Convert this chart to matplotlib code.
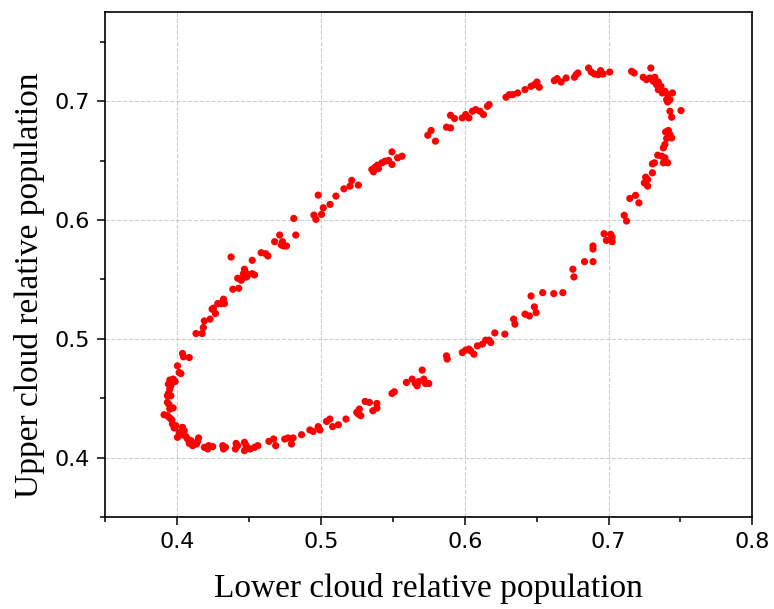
import matplotlib
matplotlib.use("Agg")
import matplotlib.pyplot as plt
import numpy as np
from matplotlib.ticker import MultipleLocator

# lower cloud (x) / upper cloud (y) relative population
lower_pop = [
    0.4131, 0.4173, 0.4037, 0.4044, 0.4084, 0.4002, 0.4014, 0.4026, 0.3949, 0.3972,
    0.3986, 0.3939, 0.3956, 0.3949, 0.3939, 0.3932, 0.3956, 0.3932, 0.3944, 0.3972,
    0.3949, 0.3909, 0.3932, 0.3949, 0.3963, 0.3967, 0.3991, 0.3979, 0.4037, 0.4049,
    0.4014, 0.4033, 0.4002, 0.4061, 0.4072, 0.4096, 0.4084, 0.4119, 0.4107, 0.4149,
    0.4142, 0.4135, 0.4189, 0.4219, 0.4247, 0.4212, 0.4317, 0.4336, 0.4322, 0.4410,
    0.4421, 0.4405, 0.4468, 0.4480, 0.4468, 0.4508, 0.4538, 0.4561, 0.4638, 0.4671,
    0.4685, 0.4748, 0.4771, 0.4806, 0.4795, 0.4865, 0.4923, 0.4946, 0.4981, 0.4993,
    0.5039, 0.5062, 0.5081, 0.5121, 0.5174, 0.5249, 0.5267, 0.5277, 0.5260, 0.5307,
    0.5337, 0.5389, 0.5361, 0.5389, 0.5494, 0.5510, 0.5594, 0.5634, 0.5657, 0.5669,
    0.5680, 0.5704, 0.5715, 0.5727, 0.5750, 0.5873, 0.5878, 0.5983, 0.6006, 0.6029,
    0.6064, 0.6088, 0.6123, 0.6146, 0.6041, 0.6169, 0.6181, 0.6209, 0.6279, 0.6340,
    0.6349, 0.6419, 0.6449, 0.6461, 0.6484, 0.6496, 0.6542, 0.6619, 0.6682, 0.6752,
    0.6759, 0.6833, 0.6892, 0.6892, 0.6892, 0.6969, 0.6985, 0.7015, 0.7025, 0.7025,
    0.7109, 0.7125, 0.7148, 0.7188, 0.7211, 0.7249, 0.7258, 0.7272, 0.7272, 0.7305,
    0.7305, 0.7319, 0.7342, 0.7370, 0.7381, 0.7392, 0.7411, 0.7381, 0.7392, 0.7397,
    0.7416, 0.7427, 0.7439, 0.7404, 0.7427, 0.7439, 0.7504, 0.7411, 0.6287, 0.6310,
    0.6334, 0.6368, 0.6419, 0.6461, 0.6484, 0.6502, 0.6518, 0.6623, 0.6642, 0.6670,
    0.6705, 0.6763, 0.6775, 0.6787, 0.6861, 0.6880, 0.6903, 0.6927, 0.6945, 0.6962,
    0.7008, 0.7160, 0.7178, 0.7294, 0.7241, 0.7264, 0.7287, 0.7311, 0.7322, 0.7334,
    0.7346, 0.7364, 0.7346, 0.7374, 0.7392, 0.7411, 0.7444, 0.7404, 0.7427, 0.7392,
    0.5004, 0.5016, 0.5063, 0.5104, 0.5160, 0.5202, 0.5214, 0.5260, 0.5354, 0.5365,
    0.5377, 0.5400, 0.5393, 0.5424, 0.5447, 0.5470, 0.5494, 0.5494, 0.5533, 0.5564,
    0.5743, 0.5766, 0.5796, 0.5873, 0.5901, 0.5901, 0.5929, 0.5983, 0.6006, 0.6029,
    0.6053, 0.6076, 0.6106, 0.6130, 0.6158, 0.6169, 0.4182, 0.4189, 0.4229, 0.4266,
    0.4243, 0.4252, 0.4282, 0.4305, 0.4322, 0.4329, 0.4387, 0.4428, 0.4421, 0.4445,
    0.4461, 0.4468, 0.4461, 0.4484, 0.4484, 0.4522, 0.4538, 0.4522, 0.4375, 0.4584,
    0.4615, 0.4631, 0.4678, 0.4713, 0.4732, 0.4741, 0.4760, 0.4725, 0.4811, 0.4825,
    0.4951, 0.4965, 0.4981,
]
upper_pop = [
    0.5045, 0.5045, 0.4877, 0.4849, 0.4843, 0.4773, 0.4717, 0.4708, 0.4653, 0.4661,
    0.4641, 0.4619, 0.4605, 0.4577, 0.4540, 0.4521, 0.4521, 0.4465, 0.4446, 0.4418,
    0.4409, 0.4361, 0.4353, 0.4334, 0.4317, 0.4283, 0.4269, 0.4250, 0.4255, 0.4227,
    0.4213, 0.4193, 0.4171, 0.4177, 0.4157, 0.4143, 0.4120, 0.4115, 0.4101, 0.4166,
    0.4137, 0.4115, 0.4087, 0.4101, 0.4093, 0.4073, 0.4101, 0.4087, 0.4073, 0.4120,
    0.4101, 0.4073, 0.4129, 0.4101, 0.4059, 0.4073, 0.4087, 0.4101, 0.4137, 0.4157,
    0.4101, 0.4157, 0.4166, 0.4166, 0.4115, 0.4193, 0.4233, 0.4221, 0.4261, 0.4233,
    0.4305, 0.4325, 0.4261, 0.4277, 0.4325, 0.4381, 0.4409, 0.4353, 0.4367, 0.4473,
    0.4465, 0.4456, 0.4395, 0.4418, 0.4540, 0.4555, 0.4633, 0.4661, 0.4624, 0.4605,
    0.4641, 0.4737, 0.4661, 0.4624, 0.4624, 0.4857, 0.4830, 0.4885, 0.4905, 0.4914,
    0.4871, 0.4941, 0.4956, 0.4989, 0.4899, 0.4989, 0.4969, 0.5050, 0.5040, 0.5166,
    0.5124, 0.5208, 0.5193, 0.5361, 0.5269, 0.5221, 0.5389, 0.5381, 0.5389, 0.5586,
    0.5521, 0.5650, 0.5650, 0.5782, 0.5756, 0.5885, 0.5829, 0.5880, 0.5857, 0.5818,
    0.6040, 0.5992, 0.6182, 0.6208, 0.6145, 0.6313, 0.6361, 0.6342, 0.6286, 0.6398,
    0.6473, 0.6482, 0.6546, 0.6538, 0.6482, 0.6496, 0.6482, 0.6608, 0.6636, 0.6742,
    0.6754, 0.6720, 0.6692, 0.6687, 0.6916, 0.6866, 0.6922, 0.6994, 0.7034, 0.7056,
    0.7056, 0.7070, 0.7098, 0.7126, 0.7140, 0.7162, 0.7118, 0.7174, 0.7191, 0.7162,
    0.7196, 0.7202, 0.7224, 0.7238, 0.7280, 0.7246, 0.7229, 0.7224, 0.7258, 0.7229,
    0.7246, 0.7252, 0.7238, 0.7280, 0.7202, 0.7182, 0.7196, 0.7168, 0.7202, 0.7140,
    0.7162, 0.7126, 0.7098, 0.7070, 0.7084, 0.7056, 0.7070, 0.7014, 0.7014, 0.6524,
    0.6048, 0.6103, 0.6132, 0.6202, 0.6263, 0.6286, 0.6334, 0.6294, 0.6426, 0.6406,
    0.6445, 0.6434, 0.6462, 0.6482, 0.6496, 0.6502, 0.6468, 0.6574, 0.6524, 0.6538,
    0.6714, 0.6754, 0.6664, 0.6782, 0.6776, 0.6882, 0.6855, 0.6860, 0.6888, 0.6860,
    0.6916, 0.6930, 0.6916, 0.6888, 0.6958, 0.6972, 0.5095, 0.5151, 0.5166, 0.5213,
    0.5250, 0.5258, 0.5297, 0.5297, 0.5334, 0.5297, 0.5418, 0.5426, 0.5510, 0.5493,
    0.5515, 0.5586, 0.5549, 0.5521, 0.5549, 0.5549, 0.5538, 0.5661, 0.5689, 0.5725,
    0.5717, 0.5698, 0.5818, 0.5874, 0.5818, 0.5782, 0.5782, 0.5790, 0.6014, 0.5874,
    0.6042, 0.6006, 0.6210,
]

fig = plt.figure(figsize=(7.74, 6.09), dpi=100)
ax = fig.add_axes([0.136, 0.151, 0.836, 0.829])

ax.scatter(lower_pop, upper_pop, s=27, color="red", edgecolors="none", zorder=3)

ax.set_xlim(0.35, 0.8)
ax.set_ylim(0.35, 0.775)
ax.set_xticks([0.4, 0.5, 0.6, 0.7, 0.8])
ax.set_yticks([0.4, 0.5, 0.6, 0.7])
ax.xaxis.set_minor_locator(MultipleLocator(0.05))
ax.yaxis.set_minor_locator(MultipleLocator(0.05))
ax.grid(True, which="major", linestyle="--", color="#cccccc", linewidth=0.8)

ax.tick_params(which="major", direction="out", length=6, width=1.1, pad=5,
               labelsize=16, top=False, right=False)
ax.tick_params(which="minor", direction="out", length=3.5, width=1.1,
               top=False, right=False)
for lbl in ax.get_xticklabels() + ax.get_yticklabels():
    lbl.set_fontfamily("DejaVu Sans")
for sp in ax.spines.values():
    sp.set_linewidth(1.2)

ax.set_xlabel("Lower cloud relative population", fontfamily="Liberation Serif",
              fontsize=24, labelpad=15)
ax.set_ylabel("Upper cloud relative population", fontfamily="Liberation Serif",
              fontsize=24, labelpad=7)
ax.yaxis.label.set_y(0.46)

fig.savefig("out.png", dpi=100)
